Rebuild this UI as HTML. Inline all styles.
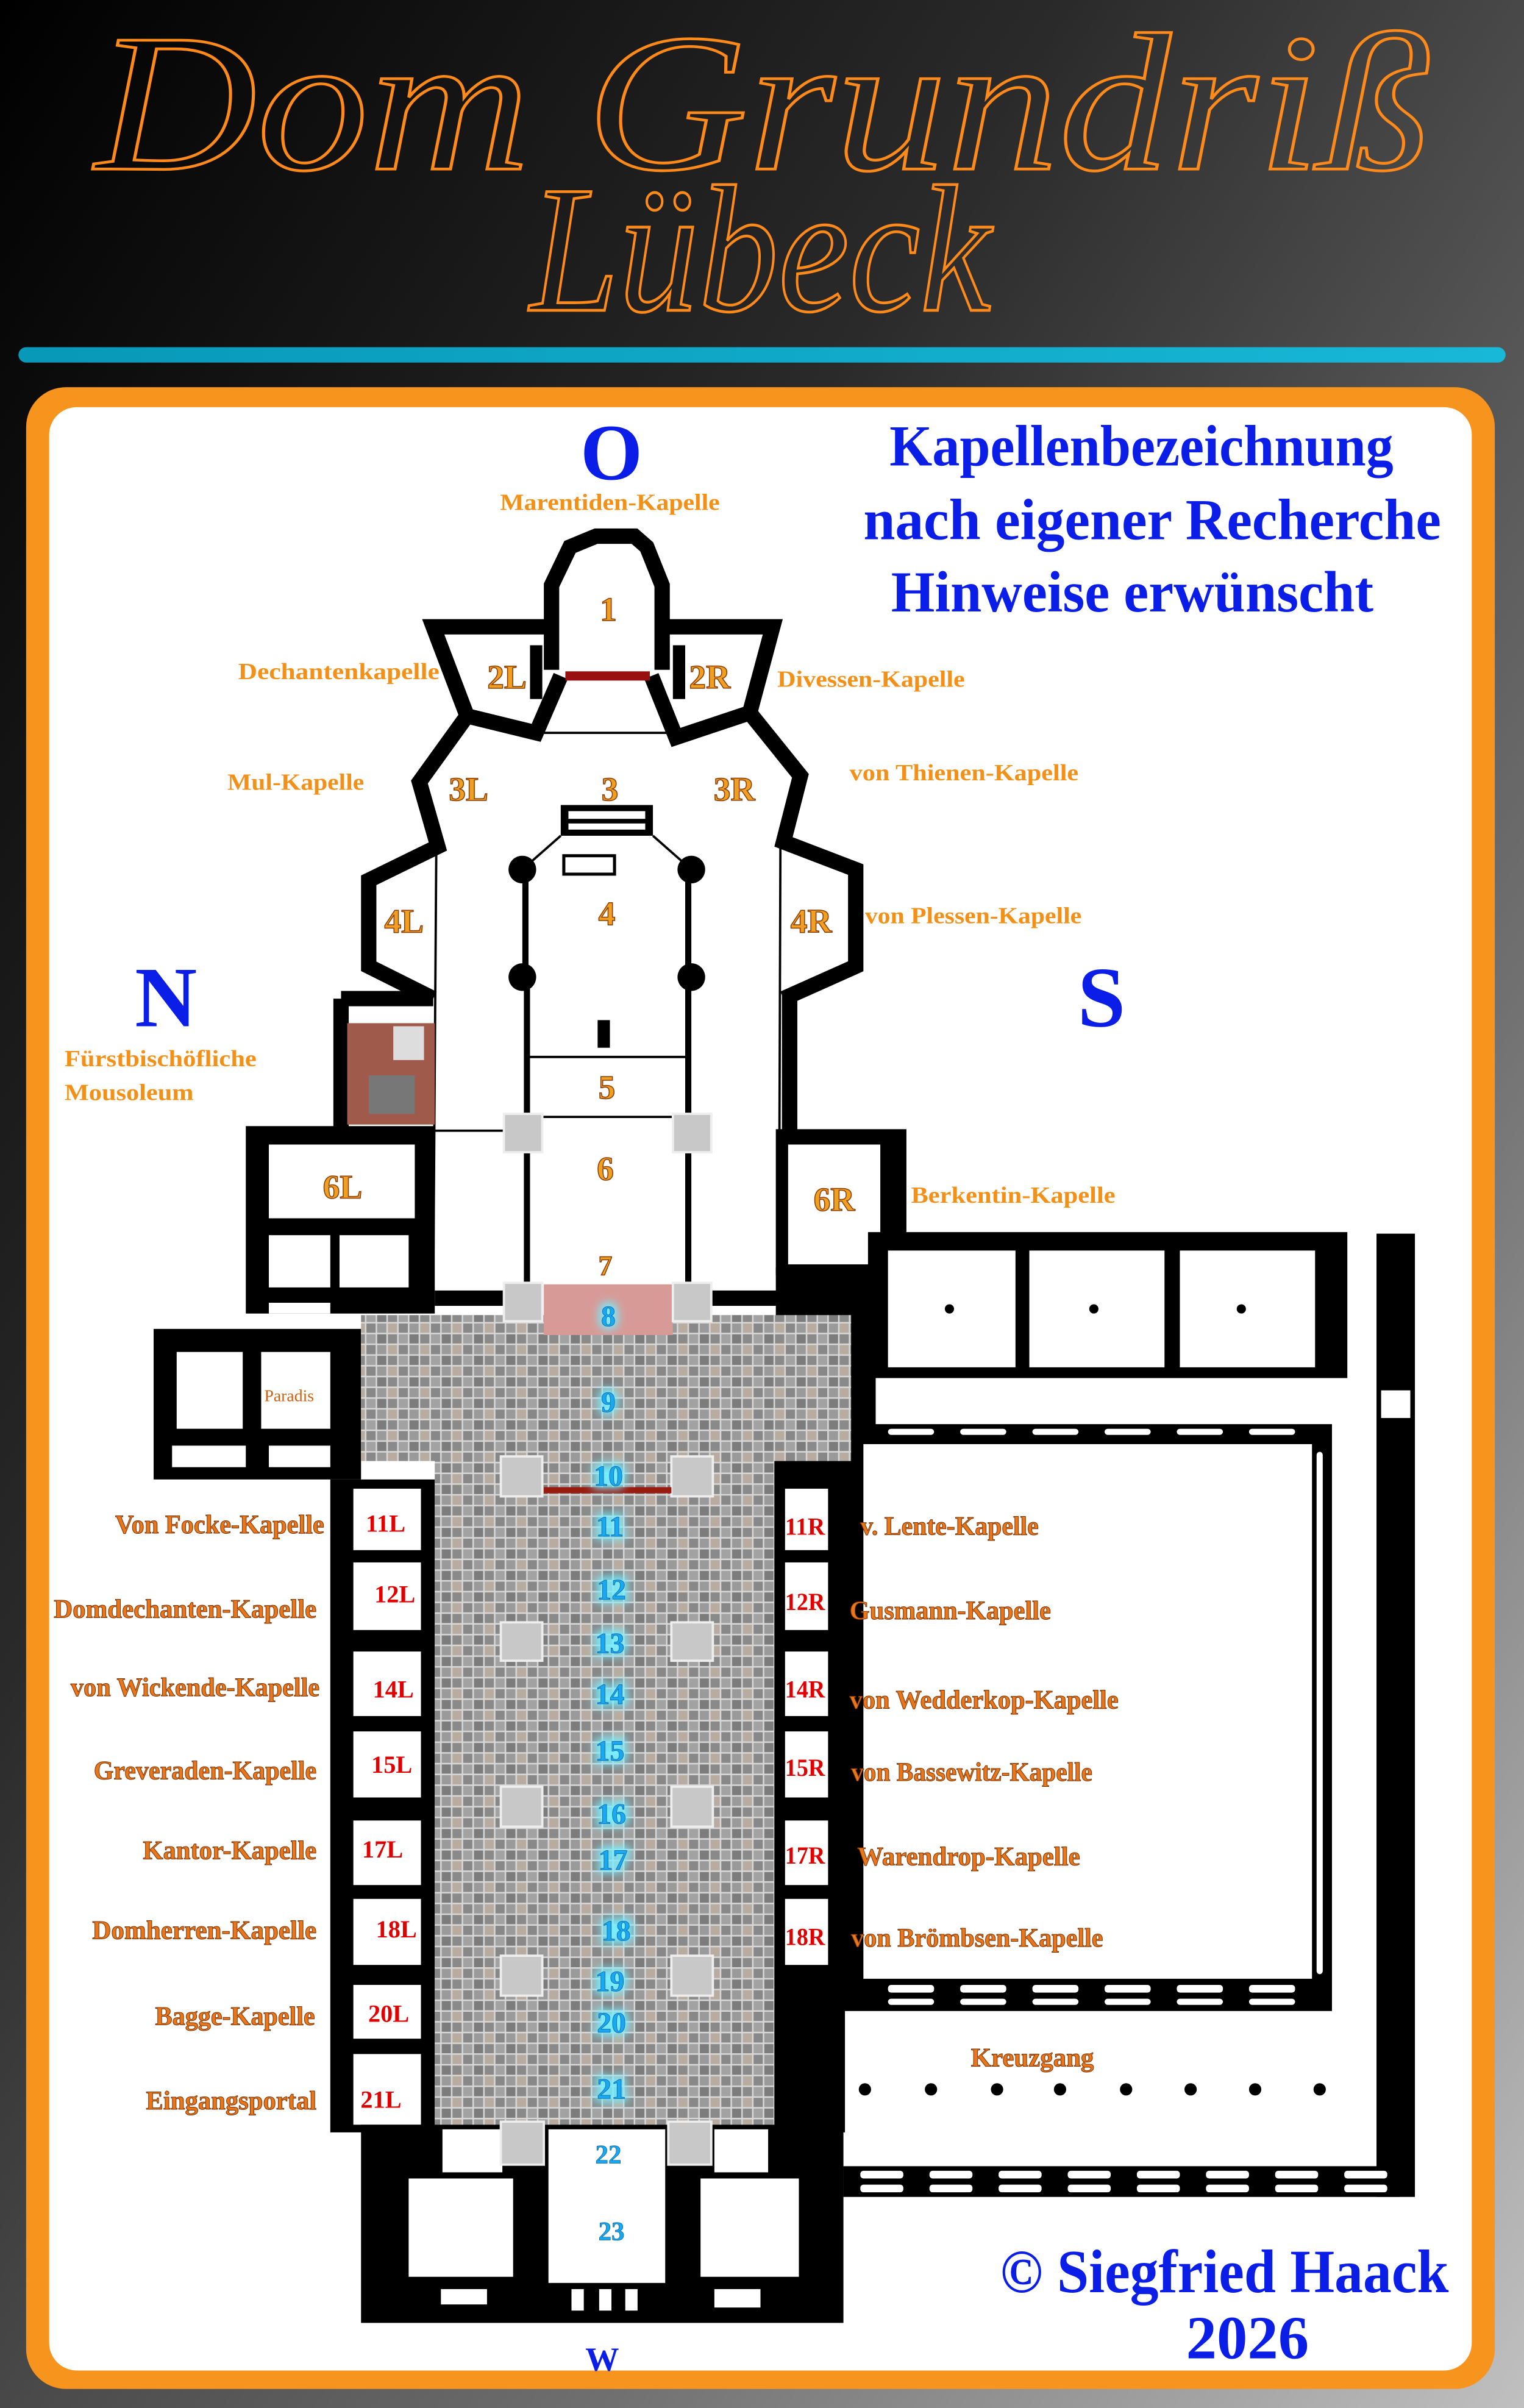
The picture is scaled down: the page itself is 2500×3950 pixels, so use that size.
<!DOCTYPE html>
<html><head><meta charset="utf-8"><style>
html,body{margin:0;padding:0;width:2500px;height:3950px;overflow:hidden;background:#333}
svg{display:block}
.lab{font-family:"Liberation Serif",serif;font-weight:bold;fill:#f39018;}
.nl{font-family:"Liberation Serif",serif;font-weight:bold;fill:#e8761a;stroke:#7a3000;stroke-width:0.4;}
.num{font-family:"Liberation Serif",serif;font-weight:bold;fill:#f0a020;stroke:#8a3a00;stroke-width:0.6;}
.cy{font-family:"Liberation Serif",serif;font-weight:bold;fill:#1aa8f0;stroke:#0060a0;stroke-width:0.3;}
.rd{font-family:"Liberation Serif",serif;font-weight:bold;fill:#e00000;}
.bl{font-family:"Liberation Serif",serif;font-weight:bold;fill:#0a1ee8;}
</style></head><body>
<svg width="2500" height="3950" viewBox="0 0 992 1567.4" preserveAspectRatio="none" xmlns="http://www.w3.org/2000/svg">
<defs>
<linearGradient id="bg" x1="0" y1="0" x2="1" y2="1">
<stop offset="0" stop-color="#000"/><stop offset="0.35" stop-color="#2a2a2a"/><stop offset="0.7" stop-color="#707070"/><stop offset="1" stop-color="#c0c0c0"/></linearGradient>
<linearGradient id="bar" x1="0" x2="1"><stop offset="0" stop-color="#0898b8"/><stop offset="1" stop-color="#18b8d8"/></linearGradient>
<pattern id="tile" width="21" height="14" patternUnits="userSpaceOnUse">
<rect width="21" height="14" fill="#d8d8d8"/>
<rect x="0.5" y="0.5" width="6" height="6" fill="#8a8a8a"/>
<rect x="7.5" y="0.5" width="6" height="6" fill="#a2a2a2"/>
<rect x="14.5" y="0.5" width="6" height="6" fill="#7c7c7c"/>
<rect x="0.5" y="7.5" width="6" height="6" fill="#b8aca0"/>
<rect x="7.5" y="7.5" width="6" height="6" fill="#888"/>
<rect x="14.5" y="7.5" width="6" height="6" fill="#9a9a9a"/>
</pattern>
<filter id="glow" x="-50%" y="-50%" width="200%" height="200%"><feGaussianBlur stdDeviation="3"/></filter>
</defs>
<rect width="992" height="1567.4" fill="url(#bg)"/>
<!-- title -->
<text x="62" y="110" font-family="Liberation Serif,serif" font-style="italic" font-size="128" textLength="870" lengthAdjust="spacingAndGlyphs" fill="none" stroke="#ff8a1a" stroke-width="1.8">Dom Grundriß</text>
<text x="345" y="202" font-family="Liberation Serif,serif" font-style="italic" font-size="118" textLength="300" lengthAdjust="spacingAndGlyphs" fill="none" stroke="#ff8a1a" stroke-width="1.8">Lübeck</text>
<rect x="12" y="226" width="968" height="10" rx="5" fill="url(#bar)"/>
<!-- panel -->
<rect x="17" y="252" width="956" height="1303" rx="26" fill="#f7941d"/>
<rect x="32" y="265" width="926" height="1278" rx="18" fill="#fff"/>

<text class="bl" x="398" y="312" font-size="52" text-anchor="middle">O</text>
<text class="lab" x="397" y="332" font-size="15" text-anchor="middle" textLength="143" lengthAdjust="spacingAndGlyphs">Marentiden-Kapelle</text>
<text class="bl" x="743" y="303" font-size="38" text-anchor="middle" textLength="328" lengthAdjust="spacingAndGlyphs">Kapellenbezeichnung</text>
<text class="bl" x="750" y="351" font-size="38" text-anchor="middle" textLength="376" lengthAdjust="spacingAndGlyphs">nach eigener Recherche</text>
<text class="bl" x="737" y="398" font-size="38" text-anchor="middle" textLength="314" lengthAdjust="spacingAndGlyphs">Hinweise erwünscht</text>
<text class="bl" x="108" y="668" font-size="56" text-anchor="middle">N</text>
<text class="bl" x="717" y="668" font-size="56" text-anchor="middle">S</text>

<g fill="none" stroke="#000" stroke-width="10" stroke-linejoin="miter">
<polyline points="359,436 359,381 371,356 388,349 413,349 421,356 431,381 431,436"/>
<polyline points="359,408 282,408 304,466 349,477 365,440"/>
<polyline points="431,408 503,408 488,464 440,480 424,440"/>
<polyline points="304,466 273,509 285,551 240,573 240,629 282,650"/>
<polyline points="488,464 521,505 510,548 557,566 557,629 510,650"/>
<polyline points="222,650 222,735"/>
<polyline points="514,645 514,740"/>
<polyline points="222,650 282,650"/>
</g>
<g fill="#000">
<rect x="365" y="524" width="60" height="20"/>
<rect x="370" y="528" width="50" height="5" fill="#fff"/>
<rect x="370" y="536" width="50" height="4" fill="#fff"/>
<circle cx="340" cy="566" r="9"/><circle cx="450" cy="566" r="9"/>
<circle cx="340" cy="636" r="9"/><circle cx="450" cy="636" r="9"/>
<rect x="341" y="636" width="4" height="200"/><rect x="446" y="636" width="4" height="200"/>
<rect x="340" y="566" width="4" height="70"/><rect x="446" y="566" width="4" height="70"/>
<rect x="368" y="437" width="55" height="6" fill="#9a1010"/>
<rect x="345" y="420" width="8" height="35"/><rect x="438" y="420" width="8" height="35"/>
<rect x="367" y="557" width="33" height="12" fill="none" stroke="#000" stroke-width="2"/>
<rect x="389" y="664" width="8" height="18"/>
</g>
<g stroke="#000" stroke-width="1.5" fill="none">
<line x1="350" y1="477" x2="440" y2="477"/>
<line x1="365" y1="544" x2="340" y2="566"/><line x1="425" y1="544" x2="450" y2="566"/>
<line x1="284" y1="551" x2="282" y2="840"/><line x1="508" y1="548" x2="507" y2="840"/>
<line x1="343" y1="688" x2="448" y2="688"/>
<line x1="282" y1="736" x2="328" y2="736"/>
<line x1="343" y1="727" x2="448" y2="727"/>
</g>
<rect x="226" y="666" width="57" height="66" fill="#a05a4c"/>
<rect x="240" y="700" width="30" height="25" fill="#777"/>
<rect x="256" y="668" width="20" height="22" fill="#ddd"/>
<rect x="160" y="733" width="123" height="122" fill="#000"/>
<rect x="175" y="745" width="95" height="48" fill="#fff"/>
<rect x="175" y="804" width="40" height="34" fill="#fff"/>
<rect x="221" y="804" width="45" height="34" fill="#fff"/>
<rect x="175" y="848" width="40" height="7" fill="#fff"/>
<rect x="283" y="840" width="50" height="10" fill="#000"/>
<rect x="100" y="865" width="135" height="98" fill="#000"/>
<rect x="115" y="880" width="43" height="50" fill="#fff"/>
<rect x="170" y="880" width="45" height="50" fill="#fff"/>
<rect x="112" y="941" width="48" height="14" fill="#fff"/>
<rect x="175" y="941" width="40" height="14" fill="#fff"/>
<text x="172" y="912" font-family="Liberation Serif,serif" font-size="11" fill="#d06010">Paradis</text>
<rect x="505" y="735" width="85" height="95" fill="#000"/>
<rect x="513" y="745" width="60" height="78" fill="#fff"/>
<rect x="505" y="825" width="65" height="115" fill="#000"/>
<rect x="458" y="840" width="50" height="10" fill="#000"/>
<rect x="565" y="802" width="312" height="95" fill="#000"/>
<rect x="578" y="814" width="83" height="76" fill="#fff"/>
<rect x="670" y="814" width="88" height="76" fill="#fff"/>
<rect x="768" y="814" width="88" height="76" fill="#fff"/>
<circle cx="618" cy="852" r="3" fill="#000"/><circle cx="712" cy="852" r="3" fill="#000"/><circle cx="808" cy="852" r="3" fill="#000"/>
<rect x="896" y="803" width="25" height="627" fill="#000"/>
<rect x="899" y="905" width="19" height="18" fill="#fff"/>
<rect x="549" y="927" width="318" height="382" fill="#000"/>
<rect x="562" y="940" width="292" height="348" fill="#fff"/>
<g fill="#fff">
<rect x="578" y="930" width="30" height="4" rx="2"/><rect x="625" y="930" width="30" height="4" rx="2"/><rect x="672" y="930" width="30" height="4" rx="2"/><rect x="719" y="930" width="30" height="4" rx="2"/><rect x="766" y="930" width="30" height="4" rx="2"/><rect x="813" y="930" width="30" height="4" rx="2"/>
<rect x="857" y="945" width="4" height="340" rx="2"/>
<rect x="578" y="1292" width="30" height="5" rx="2"/><rect x="625" y="1292" width="30" height="5" rx="2"/><rect x="672" y="1292" width="30" height="5" rx="2"/><rect x="719" y="1292" width="30" height="5" rx="2"/><rect x="766" y="1292" width="30" height="5" rx="2"/><rect x="813" y="1292" width="30" height="5" rx="2"/>
<rect x="578" y="1301" width="30" height="4" rx="2"/><rect x="625" y="1301" width="30" height="4" rx="2"/><rect x="672" y="1301" width="30" height="4" rx="2"/><rect x="719" y="1301" width="30" height="4" rx="2"/><rect x="766" y="1301" width="30" height="4" rx="2"/><rect x="813" y="1301" width="30" height="4" rx="2"/>
</g>
<rect x="549" y="1410" width="362" height="20" fill="#000"/>
<g fill="#fff">
<rect x="560" y="1413" width="28" height="5" rx="2"/><rect x="605" y="1413" width="28" height="5" rx="2"/><rect x="650" y="1413" width="28" height="5" rx="2"/><rect x="695" y="1413" width="28" height="5" rx="2"/><rect x="740" y="1413" width="28" height="5" rx="2"/><rect x="785" y="1413" width="28" height="5" rx="2"/><rect x="830" y="1413" width="28" height="5" rx="2"/><rect x="875" y="1413" width="28" height="5" rx="2"/>
<rect x="560" y="1422" width="28" height="5" rx="2"/><rect x="605" y="1422" width="28" height="5" rx="2"/><rect x="650" y="1422" width="28" height="5" rx="2"/><rect x="695" y="1422" width="28" height="5" rx="2"/><rect x="740" y="1422" width="28" height="5" rx="2"/><rect x="785" y="1422" width="28" height="5" rx="2"/><rect x="830" y="1422" width="28" height="5" rx="2"/><rect x="875" y="1422" width="28" height="5" rx="2"/>
</g>
<g fill="#000"><circle cx="563" cy="1360" r="4"/><circle cx="606" cy="1360" r="4"/><circle cx="649" cy="1360" r="4"/><circle cx="690" cy="1360" r="4"/><circle cx="733" cy="1360" r="4"/><circle cx="775" cy="1360" r="4"/><circle cx="817" cy="1360" r="4"/><circle cx="859" cy="1360" r="4"/></g>
<rect x="215" y="963" width="68" height="425" fill="#000"/>
<rect x="504" y="950" width="46" height="438" fill="#000"/>
<g fill="#fff">
<rect x="230" y="969" width="44" height="40"/><rect x="230" y="1017" width="44" height="44"/><rect x="230" y="1075" width="44" height="42"/><rect x="230" y="1127" width="44" height="43"/><rect x="230" y="1185" width="44" height="42"/><rect x="230" y="1236" width="44" height="43"/><rect x="230" y="1292" width="44" height="35"/><rect x="230" y="1337" width="44" height="46"/>
<rect x="511" y="969" width="28" height="40"/><rect x="511" y="1017" width="28" height="44"/><rect x="511" y="1075" width="28" height="42"/><rect x="511" y="1127" width="28" height="43"/><rect x="511" y="1185" width="28" height="42"/><rect x="511" y="1236" width="28" height="43"/>
</g>
<rect x="235" y="856" width="319" height="95" fill="url(#tile)"/>
<rect x="283" y="950" width="221" height="434" fill="url(#tile)"/>
<rect x="354" y="836" width="84" height="33" fill="#d89a96"/>
<rect x="235" y="1383" width="314" height="129" fill="#000"/>
<g fill="#fff">
<rect x="357" y="1386" width="76" height="100"/>
<rect x="266" y="1418" width="68" height="64"/><rect x="456" y="1418" width="64" height="64"/>
<rect x="288" y="1386" width="39" height="28"/><rect x="465" y="1386" width="35" height="28"/>
<rect x="372" y="1490" width="8" height="14"/><rect x="390" y="1490" width="8" height="14"/><rect x="407" y="1490" width="8" height="14"/>
<rect x="287" y="1490" width="30" height="10"/><rect x="465" y="1490" width="30" height="12"/>
</g>
<g fill="#c8c8c8" stroke="#eee" stroke-width="1.5">
<rect x="328" y="725" width="25" height="25"/><rect x="438" y="725" width="25" height="25"/>
<rect x="328" y="835" width="25" height="25"/><rect x="438" y="835" width="25" height="25"/>
<rect x="326" y="948" width="27" height="26"/><rect x="437" y="948" width="27" height="26"/>
<rect x="326" y="1056" width="27" height="25"/><rect x="437" y="1056" width="27" height="25"/>
<rect x="326" y="1163" width="27" height="26"/><rect x="437" y="1163" width="27" height="26"/>
<rect x="326" y="1273" width="27" height="26"/><rect x="437" y="1273" width="27" height="26"/>
<rect x="326" y="1381" width="28" height="28"/><rect x="435" y="1381" width="28" height="28"/>
</g>
<rect x="354" y="968" width="83" height="4" fill="#9a1a10"/>

<text class="lab" x="286" y="442" font-size="15" text-anchor="end" textLength="131" lengthAdjust="spacingAndGlyphs">Dechantenkapelle</text>
<text class="lab" x="506" y="447" font-size="15" textLength="122" lengthAdjust="spacingAndGlyphs">Divessen-Kapelle</text>
<text class="lab" x="148" y="514" font-size="15" textLength="89" lengthAdjust="spacingAndGlyphs">Mul-Kapelle</text>
<text class="lab" x="553" y="508" font-size="15" textLength="149" lengthAdjust="spacingAndGlyphs">von Thienen-Kapelle</text>
<text class="lab" x="563" y="601" font-size="15" textLength="141" lengthAdjust="spacingAndGlyphs">von Plessen-Kapelle</text>
<text class="lab" x="593" y="783" font-size="15" textLength="133" lengthAdjust="spacingAndGlyphs">Berkentin-Kapelle</text>
<text class="lab" x="42" y="694" font-size="15" textLength="125" lengthAdjust="spacingAndGlyphs">Fürstbischöfliche</text>
<text class="lab" x="42" y="716" font-size="15" textLength="84" lengthAdjust="spacingAndGlyphs">Mousoleum</text>

<g class="num" font-size="22" text-anchor="middle">
<text x="396" y="404">1</text><text x="330" y="448">2L</text><text x="462" y="448">2R</text>
<text x="305" y="521">3L</text><text x="397" y="521">3</text><text x="478" y="521">3R</text>
<text x="263" y="607">4L</text><text x="395" y="602">4</text><text x="528" y="607">4R</text>
<text x="395" y="715">5</text><text x="394" y="768">6</text><text x="223" y="780">6L</text><text x="543" y="788">6R</text><text x="394" y="830" font-size="18">7</text>
</g>
<g font-family="Liberation Serif,serif" font-weight="bold" font-size="20" text-anchor="middle" fill="#7ef" stroke="#7ef" stroke-width="4" filter="url(#glow)">
<text x="396" y="863">8</text><text x="396" y="919">9</text><text x="396" y="967">10</text><text x="397" y="1000">11</text><text x="398" y="1041">12</text><text x="397" y="1076">13</text><text x="397" y="1109">14</text><text x="397" y="1146">15</text><text x="398" y="1187">16</text><text x="399" y="1217">17</text><text x="401" y="1263">18</text><text x="397" y="1296">19</text><text x="398" y="1323">20</text><text x="398" y="1366">21</text>
</g>
<g class="cy" font-size="19" text-anchor="middle">
<text x="396" y="863">8</text><text x="396" y="919">9</text><text x="396" y="967">10</text><text x="397" y="1000">11</text><text x="398" y="1041">12</text><text x="397" y="1076">13</text><text x="397" y="1109">14</text><text x="397" y="1146">15</text><text x="398" y="1187">16</text><text x="399" y="1217">17</text><text x="401" y="1263">18</text><text x="397" y="1296">19</text><text x="398" y="1323">20</text><text x="398" y="1366">21</text><text x="396" y="1408" font-size="17">22</text><text x="398" y="1458" font-size="17">23</text>
</g>
<g class="rd" font-size="16" text-anchor="middle">
<text x="251" y="997">11L</text><text x="257" y="1043">12L</text><text x="256" y="1105">14L</text><text x="255" y="1154">15L</text><text x="249" y="1209">17L</text><text x="258" y="1261">18L</text><text x="253" y="1316">20L</text><text x="248" y="1372">21L</text>
<text x="524" y="999" textLength="26" lengthAdjust="spacingAndGlyphs">11R</text><text x="524" y="1048" textLength="26" lengthAdjust="spacingAndGlyphs">12R</text><text x="524" y="1105" textLength="26" lengthAdjust="spacingAndGlyphs">14R</text><text x="524" y="1156" textLength="26" lengthAdjust="spacingAndGlyphs">15R</text><text x="524" y="1213" textLength="26" lengthAdjust="spacingAndGlyphs">17R</text><text x="524" y="1266" textLength="26" lengthAdjust="spacingAndGlyphs">18R</text>
</g>
<g class="nl" font-size="17">
<text x="211" y="998" text-anchor="end" textLength="136" lengthAdjust="spacingAndGlyphs">Von Focke-Kapelle</text>
<text x="206" y="1053" text-anchor="end" textLength="171" lengthAdjust="spacingAndGlyphs">Domdechanten-Kapelle</text>
<text x="208" y="1104" text-anchor="end" textLength="162" lengthAdjust="spacingAndGlyphs">von Wickende-Kapelle</text>
<text x="206" y="1158" text-anchor="end" textLength="145" lengthAdjust="spacingAndGlyphs">Greveraden-Kapelle</text>
<text x="206" y="1210" text-anchor="end" textLength="113" lengthAdjust="spacingAndGlyphs">Kantor-Kapelle</text>
<text x="206" y="1262" text-anchor="end" textLength="146" lengthAdjust="spacingAndGlyphs">Domherren-Kapelle</text>
<text x="205" y="1318" text-anchor="end" textLength="104" lengthAdjust="spacingAndGlyphs">Bagge-Kapelle</text>
<text x="206" y="1373" text-anchor="end" textLength="111" lengthAdjust="spacingAndGlyphs">Eingangsportal</text>
<text x="560" y="999" textLength="116" lengthAdjust="spacingAndGlyphs">v. Lente-Kapelle</text>
<text x="553" y="1054" textLength="131" lengthAdjust="spacingAndGlyphs">Gusmann-Kapelle</text>
<text x="553" y="1112" textLength="175" lengthAdjust="spacingAndGlyphs">von Wedderkop-Kapelle</text>
<text x="554" y="1159" textLength="157" lengthAdjust="spacingAndGlyphs">von Bassewitz-Kapelle</text>
<text x="558" y="1214" textLength="145" lengthAdjust="spacingAndGlyphs">Warendrop-Kapelle</text>
<text x="554" y="1267" textLength="164" lengthAdjust="spacingAndGlyphs">von Brömbsen-Kapelle</text>
<text x="672" y="1345" text-anchor="middle" textLength="80" lengthAdjust="spacingAndGlyphs">Kreuzgang</text>
</g>
<text class="bl" x="797" y="1492" font-size="40" text-anchor="middle" textLength="292" lengthAdjust="spacingAndGlyphs">© Siegfried Haack</text>
<text class="bl" x="812" y="1535" font-size="40" text-anchor="middle">2026</text>
<text class="bl" x="392" y="1543" font-size="22" text-anchor="middle">W</text>
</svg>
</body></html>
